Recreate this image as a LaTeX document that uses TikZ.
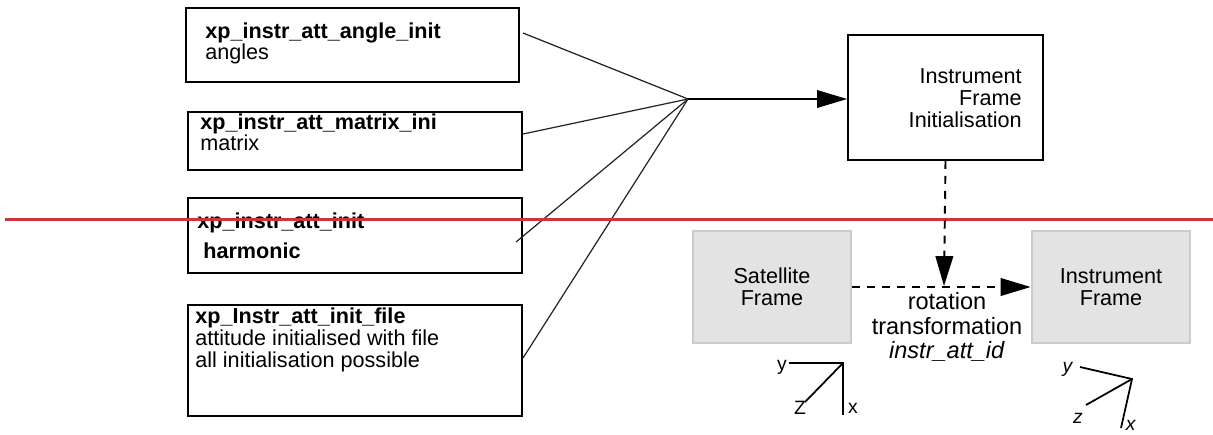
\documentclass[tikz,border=0pt]{standalone}
\usepackage{fontspec}
\setmainfont{Liberation Sans}
\usepackage{xcolor}
\usepackage{tikz}
\usetikzlibrary{arrows.meta, positioning, fit, calc}
\definecolor{cutred}{RGB}{208,52,58}
\definecolor{framegray}{RGB}{227,227,227}
\definecolor{frameline}{RGB}{204,204,204}
\tikzstyle{callbox} = [draw, line width=1.1pt, inner sep=0pt]
\tikzstyle{framebox} = [draw=frameline, fill=framegray, line width=1.6pt, inner sep=0pt]
\tikzstyle{frametext} = [align=center, inner sep=0pt, font=\fontsize{12.3}{12.5}\selectfont]
\tikzstyle{boxtext} = [font=\fontsize{12.3}{12}\selectfont, align=left, inner sep=0pt, anchor=north west]
\tikzstyle{fanline} = [line width=0.7pt, black!85]
\tikzstyle{feedarrow} = [line width=0.9pt, -{Triangle[length=17pt,width=10pt]}]
\tikzstyle{rotarrow} = [line width=1.1pt, dash pattern=on 4.5pt off 4pt, -{Triangle[length=17pt,width=10pt]}]
\tikzstyle{axisline} = [line width=1pt]
\tikzstyle{axislabel} = [font=\fontsize{11}{11}\selectfont, inner sep=0pt]

\begin{document}
\begin{tikzpicture}[x=0.02cm, y=-0.02cm]
\useasboundingbox (0,0) rectangle (1213,434);

% Initialisation calls
\node[callbox, fit={(186,8) (519,82)}] (angbox) {};
\node[boxtext] (angtxt) at (205,22) {\textbf{xp\_instr\_att\_angle\_init}\\angles};

\node[callbox, fit={(188,112) (522,170)}] (matbox) {};
\node[boxtext] (mattxt) at (200,113) {\textbf{xp\_instr\_att\_matrix\_ini}\\matrix};

\node[callbox, fit={(188,198) (522,273)}] (harbox) {};
\node[boxtext] (hartxt) at (197,212) {\textbf{xp\_instr\_att\_init}};
\node[boxtext] (harsub) at (203,242) {\textbf{harmonic}};

\node[callbox, fit={(188,305) (522,416)}] (filebox) {};
\node[boxtext, font=\fontsize{12.3}{12.6}\selectfont] (filetxt) at (195,307) {\textbf{xp\_Instr\_att\_init\_file}\\attitude initialised with file\\all initialisation possible};

% Fan in
\coordinate (hub) at (688,99);
\coordinate (f1) at (523,33);
\coordinate (f2) at (523,134);
\coordinate (f3) at (516,242);
\coordinate (f4) at (523,358);
\draw[fanline] (f1) -- (hub);
\draw[fanline] (f2) -- (hub);
\draw[fanline] (f3) -- (hub);
\draw[fanline] (f4) -- (hub);

% Instrument frame initialisation
\node[callbox, fit={(848,35) (1043,160)}] (init) {};
\node[boxtext, anchor=north east, align=right, font=\fontsize{12.3}{12.5}\selectfont] (inittxt) at (1022,68) {Instrument\\Frame\\Initialisation};
\draw[feedarrow] (hub) -- (hub -| init.west);

% Cut line
\draw[cutred, line width=1.7pt] (5,219) -- (1213,219);

% Frames
\node[framebox, fit={(693,231) (851,343)}] (sat) {};
\node[framebox, fit={(1032,231) (1190,343)}] (inst) {};
\node[frametext] (sattxt) at (sat.center) {Satellite\\Frame};
\node[frametext] (insttxt) at (inst.center) {Instrument\\Frame};
\coordinate (meet) at (944,286);
\draw[rotarrow] (sat.east) -- (inst.west);
\draw[rotarrow] (init.south) -- (meet);
\node[font=\fontsize{13.4}{14}\selectfont, align=center, inner sep=0pt, anchor=north] (rot) at (947,292) {rotation\\transformation\\\textit{instr\_att\_id}};

% Satellite axes
\coordinate (o1) at (843,363);
\coordinate (y1) at (789,363);
\coordinate (x1) at (843,415);
\coordinate (z1) at (805,402);
\draw[axisline] (y1) -- (o1) -- (x1);
\draw[axisline] (o1) -- (z1);
\node[axislabel] (ly1) at (782,367) {y};
\node[axislabel] (lz1) at (800,408) {Z};
\node[axislabel] (lx1) at (853,408) {x};

% Instrument axes
\coordinate (o2) at (1132,379);
\coordinate (y2) at (1080,367);
\coordinate (x2) at (1121,428);
\coordinate (z2) at (1086,405);
\draw[axisline] (y2) -- (o2) -- (x2);
\draw[axisline] (o2) -- (z2);
\node[axislabel] (ly2) at (1068,369) {\textit{y}};
\node[axislabel] (lz2) at (1078,418) {\textit{z}};
\node[axislabel] (lx2) at (1131,425) {\textit{x}};
\end{tikzpicture}
\end{document}
